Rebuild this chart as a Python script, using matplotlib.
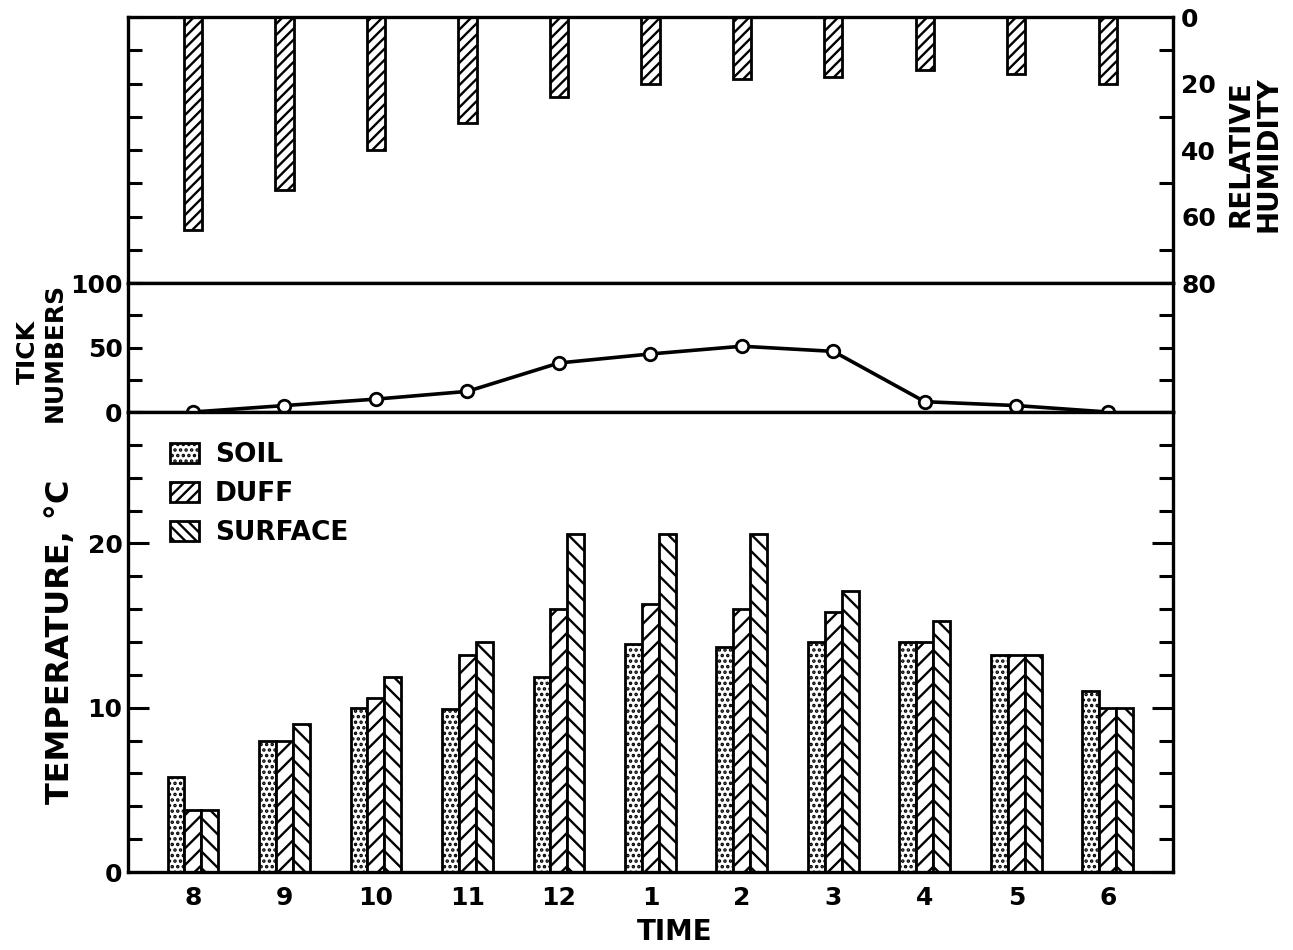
import numpy as np
import matplotlib
matplotlib.use('Agg')
import matplotlib.pyplot as plt
from matplotlib.patches import Patch
from matplotlib.ticker import MultipleLocator

# hour of day along the bottom
times = ['8', '9', '10', '11', '12', '1', '2', '3', '4', '5', '6']

# relative humidity (%), hangs down from the top
humidity = [64, 52, 40, 32, 24, 20, 18.5, 18, 16, 17, 20]

# ticks collected
tick_numbers = [0, 5, 10, 16, 38, 45, 51, 47, 8, 5, 0]

# temperatures, deg C
soil = [5.8, 8.0, 10.0, 9.9, 11.9, 13.9, 13.7, 14.0, 14.0, 13.2, 11.0]
duff = [3.8, 8.0, 10.6, 13.2, 16.0, 16.3, 16.0, 15.8, 14.0, 13.2, 10.0]
surface = [3.8, 9.0, 11.9, 14.0, 20.6, 20.6, 20.6, 17.1, 15.3, 13.2, 10.0]

plt.rcParams['font.family'] = ['DejaVu Sans']
plt.rcParams['font.weight'] = 'bold'
plt.rcParams['hatch.linewidth'] = 1.7
plt.rcParams['axes.linewidth'] = 2.4
plt.rcParams['hatch.color'] = 'black'

fig = plt.figure(figsize=(12.93, 9.5), dpi=100)
L, W = 0.099, 0.808
ax_h = fig.add_axes([L, 0.7021, W, 0.2800])
ax_t = fig.add_axes([L, 0.5663, W, 0.1358])
ax_T = fig.add_axes([L, 0.0821, W, 0.4842])

x = np.arange(len(times))
bw = 0.185
TS = 18
EW = 2.0

for ax in (ax_h, ax_t, ax_T):
    ax.set_xlim(-0.71, 10.71)
    ax.tick_params(axis='x', which='both', bottom=False, top=False, labelbottom=False)

# humidity panel
ax_h.bar(x, humidity, width=0.2, color='white', edgecolor='black', hatch='///', linewidth=EW)
ax_h.set_ylim(80, 0)
ax_h.set_yticks([0, 20, 40, 60, 80])
ax_h.yaxis.set_minor_locator(MultipleLocator(10))
ax_h.tick_params(axis='y', which='major', direction='in', left=True, right=False,
                 labelleft=False, labelright=True, length=10, width=2.2, labelsize=TS, pad=6)
ax_h.tick_params(axis='y', which='minor', direction='in', left=True, right=True, length=10, width=2.2)

# tick numbers panel
ax_t.plot(x, tick_numbers, '-o', color='black', lw=2.6, ms=9, mfc='white', mec='black',
          mew=2, clip_on=False, zorder=5)
ax_t.set_ylim(0, 100)
ax_t.set_yticks([0, 50, 100])
ax_t.yaxis.set_minor_locator(MultipleLocator(25))
ax_t.tick_params(axis='y', which='both', direction='in', left=True, right=True,
                 labelleft=True, labelright=False, length=10, width=2.2, labelsize=TS, pad=4)

# temperature panel
ax_T.bar(x - bw, soil, width=bw, color='white', edgecolor='black', hatch='...', linewidth=EW)
ax_T.bar(x, duff, width=bw, color='white', edgecolor='black', hatch='//', linewidth=EW)
ax_T.bar(x + bw, surface, width=bw, color='white', edgecolor='black', hatch='\\\\', linewidth=EW)
ax_T.set_ylim(0, 28)
ax_T.set_yticks([0, 10, 20])
ax_T.yaxis.set_minor_locator(MultipleLocator(2))
ax_T.tick_params(axis='y', which='major', direction='in', left=True, right=True,
                 labelleft=True, length=15, width=2.2, labelsize=TS, pad=4)
ax_T.tick_params(axis='y', which='minor', direction='in', left=True, right=True, length=10, width=2.2)
ax_T.set_xticks(x, times)
ax_T.tick_params(axis='x', which='major', length=0, pad=10, labelsize=TS, labelbottom=True)

handles = [Patch(facecolor='white', edgecolor='black', hatch='...', linewidth=EW, label='SOIL'),
           Patch(facecolor='white', edgecolor='black', hatch='///', linewidth=EW, label='DUFF'),
           Patch(facecolor='white', edgecolor='black', hatch='\\\\\\', linewidth=EW, label='SURFACE')]
ax_T.legend(handles=handles, loc='upper left', bbox_to_anchor=(0.04, 0.935), frameon=False,
            prop={'size': 19, 'weight': 'bold'}, handlelength=1.1, handleheight=0.8,
            labelspacing=0.5, handletextpad=0.6, borderaxespad=0, borderpad=0)

fig.text(0.032, 0.6295, 'TICK\nNUMBERS', rotation=90, ha='center', va='center',
         fontsize=18, linespacing=1.15)
fig.text(0.047, 0.324, 'TEMPERATURE, °C', rotation=90, ha='center', va='center', fontsize=23)
fig.text(0.9706, 0.838, 'RELATIVE\nHUMIDITY', rotation=90, ha='center', va='center',
         fontsize=20, linespacing=1.0)
fig.text(0.522, 0.019, 'TIME', ha='center', va='center', fontsize=20)

fig.savefig('out.png', dpi=100, facecolor='white')
